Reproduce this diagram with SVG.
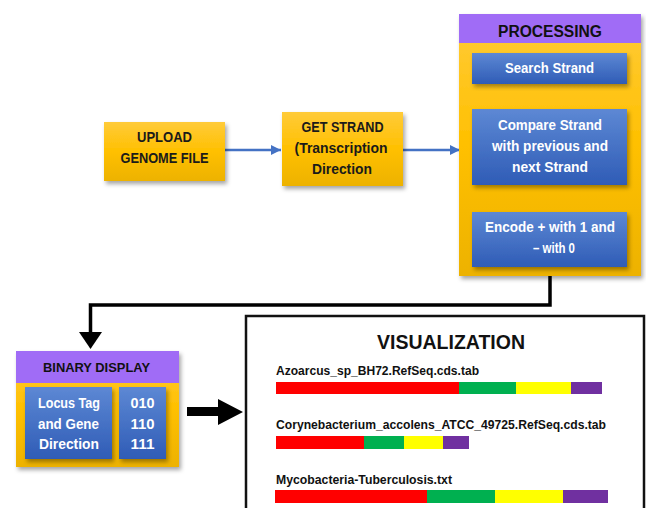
<svg xmlns="http://www.w3.org/2000/svg" width="646" height="508" viewBox="0 0 646 508">
<defs>
<linearGradient id="gy" x1="0" y1="0" x2="0" y2="1"><stop offset="0" stop-color="#FFCB3A"/><stop offset="0.5" stop-color="#FFC000"/><stop offset="1" stop-color="#EDB200"/></linearGradient>
<linearGradient id="gb" x1="0" y1="0" x2="0" y2="1"><stop offset="0" stop-color="#5D88D4"/><stop offset="1" stop-color="#2F5CB6"/></linearGradient>
<filter id="sh" x="-10%" y="-10%" width="125%" height="130%"><feDropShadow dx="2" dy="3" stdDeviation="2" flood-color="#000" flood-opacity="0.35"/></filter>
<marker id="ab" viewBox="0 0 10 10" refX="10" refY="5" markerWidth="4" markerHeight="4" markerUnits="strokeWidth" orient="auto"><path d="M0,0 L10,5 L0,10 z" fill="#4472C4"/></marker>
</defs>
<style>
text{font-family:"Liberation Sans",Arial,sans-serif;font-weight:bold;text-anchor:middle}
.dk{fill:#1a1a1a;font-size:14px}
.wt{fill:#ffffff;font-size:14px}
.yb{fill:url(#gy);filter:url(#sh)}
.bb{fill:url(#gb);filter:url(#sh)}
.pu{fill:#A06CF6}
.lbl{fill:#111;font-size:12px;text-anchor:start}
</style>
<rect width="646" height="508" fill="#ffffff"/>

<g id="connectors">
<line x1="225" y1="150" x2="281" y2="150" stroke="#4472C4" stroke-width="2.5" marker-end="url(#ab)"/>
<line x1="403" y1="150" x2="460" y2="150" stroke="#4472C4" stroke-width="2.5" marker-end="url(#ab)"/>
<polyline points="550,276 550,305 90.5,305 90.5,333" fill="none" stroke="#000" stroke-width="3.5"/>
<polygon points="79,332 102,332 90.5,349" fill="#000"/>
<polygon points="187,407 218,407 218,399 243,412 218,425 218,416 187,416" fill="#000"/>
</g>

<g id="upload">
<rect class="yb" x="104" y="122" width="121" height="59"/>
<text class="dk" x="164.5" y="142" textLength="55" lengthAdjust="spacingAndGlyphs">UPLOAD</text>
<text class="dk" x="164.5" y="163" textLength="88" lengthAdjust="spacingAndGlyphs">GENOME FILE</text>
</g>

<g id="getstrand">
<rect class="yb" x="282" y="112" width="121" height="74"/>
<text class="dk" x="342.5" y="132" textLength="82" lengthAdjust="spacingAndGlyphs">GET STRAND</text>
<text class="dk" x="341" y="153" textLength="93" lengthAdjust="spacingAndGlyphs">(Transcription</text>
<text class="dk" x="342" y="174" textLength="60" lengthAdjust="spacingAndGlyphs">Direction</text>
</g>

<g id="processing">
<rect class="yb" x="459" y="14" width="182" height="262"/>
<rect class="pu" x="459" y="14" width="182" height="29"/>
<text x="550" y="37" style="fill:#111;font-size:16px" textLength="104" lengthAdjust="spacingAndGlyphs">PROCESSING</text>
<g id="search">
<rect class="bb" x="472" y="53" width="155" height="31"/>
<text class="wt" x="549.5" y="73" textLength="89" lengthAdjust="spacingAndGlyphs">Search Strand</text>
</g>
<g id="compare">
<rect class="bb" x="472" y="109" width="155" height="76"/>
<text class="wt" x="550" y="130" textLength="104" lengthAdjust="spacingAndGlyphs">Compare Strand</text>
<text class="wt" x="550" y="151" textLength="116" lengthAdjust="spacingAndGlyphs">with previous and</text>
<text class="wt" x="550" y="172" textLength="76" lengthAdjust="spacingAndGlyphs">next Strand</text>
</g>
<g id="encode">
<rect class="bb" x="472" y="212" width="155" height="55"/>
<text class="wt" x="550" y="232" textLength="130" lengthAdjust="spacingAndGlyphs">Encode + with 1 and</text>
<text class="wt" x="554" y="253" textLength="42" lengthAdjust="spacingAndGlyphs">– with 0</text>
</g>
</g>

<g id="binary">
<rect class="yb" x="16" y="351" width="163" height="116"/>
<rect class="pu" x="16" y="351" width="163" height="32"/>
<text x="96.5" y="372" style="fill:#111;font-size:13px" textLength="107" lengthAdjust="spacingAndGlyphs">BINARY DISPLAY</text>
<g id="locus">
<rect class="bb" x="25" y="387" width="87" height="72"/>
<text class="wt" x="69" y="408" textLength="62" lengthAdjust="spacingAndGlyphs">Locus Tag</text>
<text class="wt" x="68.5" y="429" textLength="61" lengthAdjust="spacingAndGlyphs">and Gene</text>
<text class="wt" x="69" y="449" textLength="60" lengthAdjust="spacingAndGlyphs">Direction</text>
</g>
<g id="codes">
<rect class="bb" x="119" y="387" width="47" height="72"/>
<text class="wt" x="142.5" y="408" textLength="24" lengthAdjust="spacingAndGlyphs">010</text>
<text class="wt" x="142.5" y="429" textLength="24" lengthAdjust="spacingAndGlyphs">110</text>
<text class="wt" x="142.5" y="449" textLength="24" lengthAdjust="spacingAndGlyphs">111</text>
</g>
</g>

<g id="visualization">
<rect x="246" y="316" width="398" height="210" fill="#fff" stroke="#111" stroke-width="2.5"/>
<text x="451" y="349" style="fill:#111;font-size:20px" textLength="148" lengthAdjust="spacingAndGlyphs">VISUALIZATION</text>
<text class="lbl" x="276" y="375" textLength="203" lengthAdjust="spacingAndGlyphs">Azoarcus_sp_BH72.RefSeq.cds.tab</text>
<rect x="276" y="382" width="183" height="12" fill="#FF0000"/>
<rect x="459" y="382" width="57" height="12" fill="#00B050"/>
<rect x="516" y="382" width="55" height="12" fill="#FFFF00"/>
<rect x="571" y="382" width="31" height="12" fill="#7030A0"/>
<text class="lbl" x="276" y="429" textLength="330" lengthAdjust="spacingAndGlyphs">Corynebacterium_accolens_ATCC_49725.RefSeq.cds.tab</text>
<rect x="276" y="436" width="88" height="13" fill="#FF0000"/>
<rect x="364" y="436" width="40" height="13" fill="#00B050"/>
<rect x="404" y="436" width="39" height="13" fill="#FFFF00"/>
<rect x="443" y="436" width="26" height="13" fill="#7030A0"/>
<text class="lbl" x="276" y="484" textLength="176" lengthAdjust="spacingAndGlyphs">Mycobacteria-Tuberculosis.txt</text>
<rect x="275" y="490" width="152" height="13" fill="#FF0000"/>
<rect x="427" y="490" width="68" height="13" fill="#00B050"/>
<rect x="495" y="490" width="68" height="13" fill="#FFFF00"/>
<rect x="563" y="490" width="45" height="13" fill="#7030A0"/>
</g>
</svg>
